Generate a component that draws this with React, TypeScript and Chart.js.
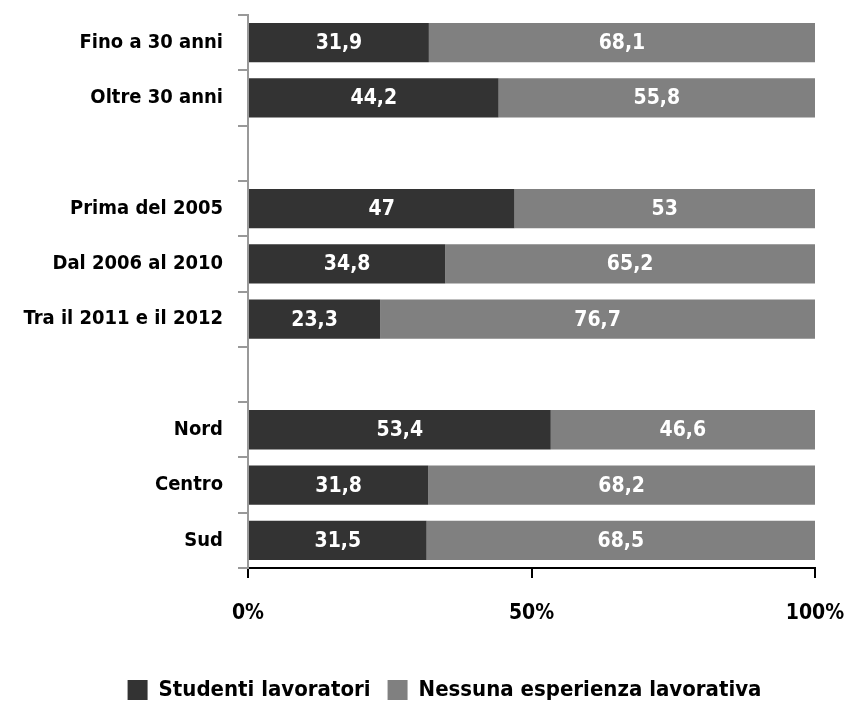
import React, { useEffect, useRef } from "react";
import { Chart, registerables } from "chart.js";

Chart.register(...registerables);

const categories = [
  "Fino a 30 anni",
  "Oltre 30 anni",
  "",
  "Prima del 2005",
  "Dal 2006 al 2010",
  "Tra il 2011 e il 2012",
  "",
  "Nord",
  "Centro",
  "Sud",
];
const studentiLavoratori = [31.9, 44.2, null, 47, 34.8, 23.3, null, 53.4, 31.8, 31.5];
const nessunaEsperienza = [68.1, 55.8, null, 53, 65.2, 76.7, null, 46.6, 68.2, 68.5];
const xTicks = [0, 50, 100];

const FONT = "'DejaVu Sans Condensed', 'Liberation Sans Narrow', sans-serif";

const valueLabels = {
  id: "valueLabels",
  afterDatasetsDraw(chart: any) {
    const ctx = chart.ctx;
    ctx.save();
    ctx.fillStyle = "#ffffff";
    ctx.font = `bold 21px ${FONT}`;
    ctx.textAlign = "center";
    ctx.textBaseline = "middle";
    chart.data.datasets.forEach((ds: any, i: number) => {
      const meta = chart.getDatasetMeta(i);
      meta.data.forEach((el: any, j: number) => {
        const v = ds.data[j];
        if (v === null || v === undefined) return;
        const p = el.getCenterPoint();
        ctx.fillText(String(v).replace(".", ","), p.x, p.y + 1);
      });
    });
    ctx.restore();
  },
};

// Centre the legend under the plot like the reference (shift it right a little)
const legendShift = {
  id: "legendShift",
  afterLayout(chart: any) {
    const l = chart.legend;
    if (l) {
      l.left += 37;
      l.right += 37;
    }
  },
};

export default function App() {
  const ref = useRef<HTMLCanvasElement>(null);
  useEffect(() => {
    if (!ref.current) return;
    const chart = new Chart(ref.current, {
      type: "bar",
      data: {
        labels: categories,
        datasets: [
          {
            label: "Studenti lavoratori",
            data: studentiLavoratori,
            backgroundColor: "#333333",
            barPercentage: 0.71,
            categoryPercentage: 1,
          },
          {
            label: "Nessuna esperienza lavorativa",
            data: nessunaEsperienza,
            backgroundColor: "#808080",
            barPercentage: 0.71,
            categoryPercentage: 1,
          },
        ],
      },
      plugins: [valueLabels, legendShift],
      options: {
        indexAxis: "y",
        animation: false,
        responsive: false,
        maintainAspectRatio: false,
        layout: { padding: { top: 15, right: 33, left: 0, bottom: -6 } },
        scales: {
          x: {
            stacked: true,
            min: 0,
            max: 100,
            afterBuildTicks: (scale: any) => {
              scale.ticks = xTicks.map((v) => ({ value: v }));
            },
            afterFit: (scale: any) => {
              scale.height = 94;
              scale.paddingLeft = 0;
              scale.paddingRight = 0;
            },
            border: { color: "#000000", width: 2 },
            grid: {
              drawOnChartArea: false,
              drawTicks: true,
              tickLength: 10,
              color: "#000000",
              lineWidth: 2,
            },
            ticks: {
              color: "#000000",
              padding: 23,
              font: { family: FONT, weight: "bold", size: 21 },
              callback: (v: any) => v + "%",
              maxRotation: 0,
            },
          },
          y: {
            stacked: true,
            afterFit: (scale: any) => {
              scale.width = 248;
              scale.paddingTop = 0;
              scale.paddingBottom = 0;
            },
            border: { color: "#999999", width: 2 },
            grid: {
              drawOnChartArea: false,
              drawTicks: true,
              tickLength: 10,
              color: "#999999",
              lineWidth: 2,
              offset: true,
            },
            ticks: {
              color: "#000000",
              padding: 15,
              font: { family: FONT, weight: "bold", size: 20 },
              autoSkip: false,
            },
          },
        },
        plugins: {
          legend: {
            position: "bottom",
            labels: {
              color: "#000000",
              boxWidth: 20,
              boxHeight: 20,
              padding: 17,
              font: { family: FONT, weight: "bold", size: 22 },
            },
          },
          tooltip: { enabled: false },
        },
      },
    });
    return () => chart.destroy();
  }, []);
  return (
    <div style={{ position: "fixed", left: 0, top: 0, width: 848, height: 705 }}>
      <canvas ref={ref} width={848} height={705} style={{ width: 848, height: 705 }} />
    </div>
  );
}
